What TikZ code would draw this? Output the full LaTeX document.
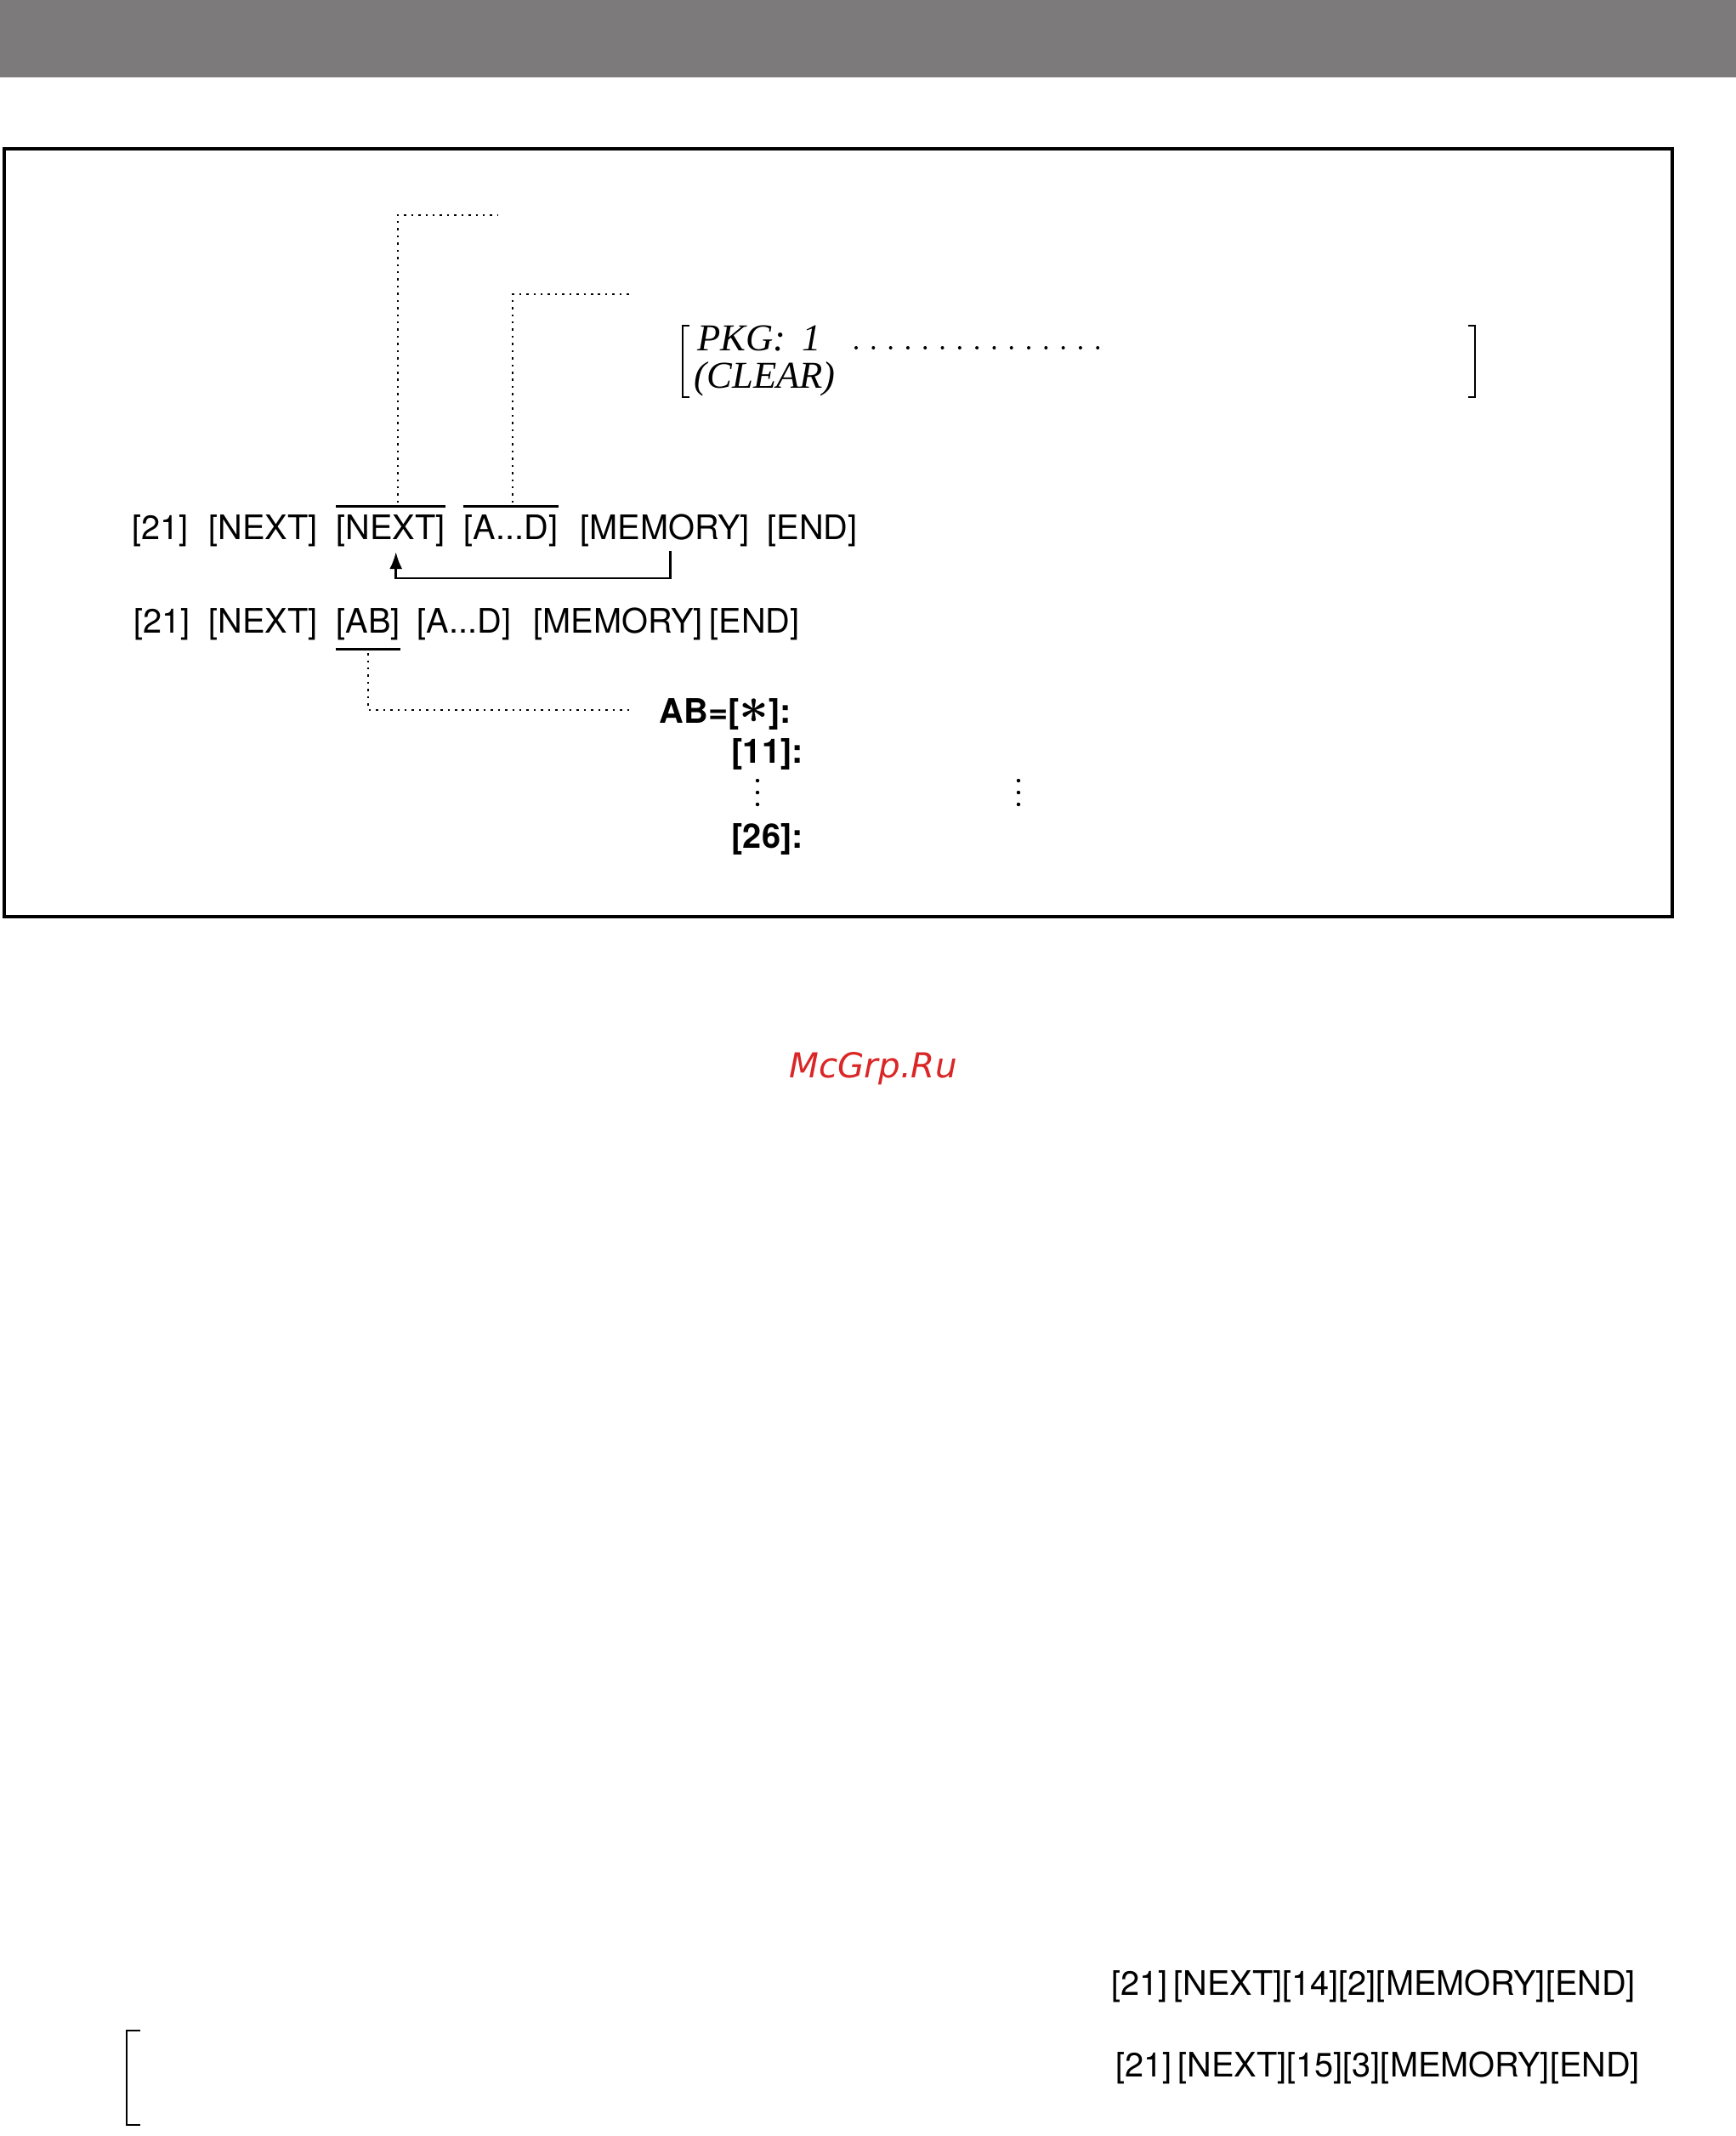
\documentclass[tikz,border=0pt]{standalone}
\usepackage{fontspec}
\setmainfont{TeX Gyre Heros}
\newfontfamily\dispfont{Liberation Serif}
\newfontfamily\markfont{DejaVu Sans}
\usetikzlibrary{arrows.meta}
\definecolor{header}{HTML}{7D7A7B}
\definecolor{mark}{HTML}{DA2626}

\begin{document}
\begin{tikzpicture}[
  key/.style={font=\fontsize{11.3}{13}\selectfont, inner sep=0pt, anchor=base west},
  hit/.style={font=\fontsize{11.3}{13}\selectfont\bfseries, inner sep=0pt, anchor=base west},
  disp/.style={font=\dispfont\itshape\fontsize{12.7}{14}\selectfont, inner sep=0pt, anchor=base west},
  seq/.style={font=\fontsize{11.3}{13}\selectfont, inner sep=0pt, anchor=base west},
  leader/.style={line width=0.6pt, dash pattern=on 0.7pt off 1.7pt},
  loop/.style={line width=0.75pt, -{Latex[length=2mm, width=1.5mm]}},
  bar/.style={line width=0.8pt}
]
  \path[use as bounding box, fill=white] (0,0) rectangle (20.42,-25.12);
  \fill[header] (0,0) rectangle (20.42,-0.91);
  \draw[line width=0.9pt] (0.05,-1.75) rectangle (19.67,-10.78);

  % Row 1
  \node[key] (r1a) at (1.55,-6.35) {[21]};
  \node[key] (r1b) at (2.45,-6.35) {[NEXT]};
  \node[key] (r1c) at (3.95,-6.35) {[NEXT]};
  \node[key] (r1d) at (5.45,-6.35) {[A...D]};
  \node[key] (r1e) at (6.82,-6.35) {[MEMORY]};
  \node[key] (r1f) at (9.02,-6.35) {[END]};
  \draw[bar] ([yshift=1mm]r1c.north west) -- ([yshift=1mm]r1c.north east);
  \draw[bar] ([yshift=1mm]r1d.north west) -- ([yshift=1mm]r1d.north east);
  \draw[loop] ([xshift=0.6mm,yshift=-0.4mm]r1e.south) -- ++(0,-0.32) -| ([xshift=0.6mm,yshift=-0.5mm]r1c.south);

  % Leaders to display
  \coordinate (tip1) at (5.85,-2.53);
  \coordinate (tip2) at (7.45,-3.46);
  \draw[leader] ([xshift=0.8mm,yshift=1.4mm]r1c.north) |- (tip1);
  \draw[leader] ([xshift=0.2mm,yshift=1.4mm]r1d.north) |- (tip2);

  % Display
  \draw[bar] (8.11,-3.83) -- (8.03,-3.83) -- (8.03,-4.67) -- (8.11,-4.67);
  \draw[bar] (17.27,-3.83) -- (17.35,-3.83) -- (17.35,-4.67) -- (17.27,-4.67);
  \node[disp] (pkg) at (8.20,-4.13) {PKG:\, 1};
  \node[disp] (clr) at (8.16,-4.57) {(CLEAR)};
  \foreach \i in {0,...,14}
    \fill (10.07+0.203*\i,-4.09) circle (0.02);

  % Row 2
  \node[key] (r2a) at (1.57,-7.44) {[21]};
  \node[key] (r2b) at (2.45,-7.44) {[NEXT]};
  \node[key] (r2c) at (3.95,-7.44) {[AB]};
  \node[key] (r2d) at (4.90,-7.44) {[A...D]};
  \node[key] (r2e) at (6.27,-7.44) {[MEMORY]};
  \node[key] (r2f) at (8.34,-7.44) {[END]};
  \draw[bar] ([yshift=-1mm]r2c.south west) -- ([yshift=-1mm]r2c.south east);
  \coordinate (tip3) at (7.42,-8.35);
  \draw[leader] ([yshift=-1.5mm]r2c.south) |- (tip3);

  % Address list
  \node[hit] (abset) at (7.75,-8.50) {AB=[{\fontsize{16}{16}\selectfont\boldmath$\ast$}]:};
  \node[hit] (a11) at (8.60,-8.97) {[11]:};
  \node[hit] (a26) at (8.60,-9.97) {[26]:};
  \foreach \x in {8.91,11.98}
    \foreach \y in {-9.18,-9.32,-9.46}
      \fill (\x,\y) circle (0.022);

  \node[font=\markfont\itshape\fontsize{11.5}{13}\selectfont, text=mark] (wm) at (10.27,-12.57) {McGrp.Ru};

  % Examples
  \node[seq] (ex1) at (13.07,-23.46) {[21]\,[NEXT][14][2][MEMORY][END]};
  \node[seq] (ex2) at (13.12,-24.42) {[21]\,[NEXT][15][3][MEMORY][END]};
  \draw[line width=0.55pt] (1.65,-23.88) -- (1.49,-23.88) -- (1.49,-24.99) -- (1.65,-24.99);
\end{tikzpicture}
\end{document}
